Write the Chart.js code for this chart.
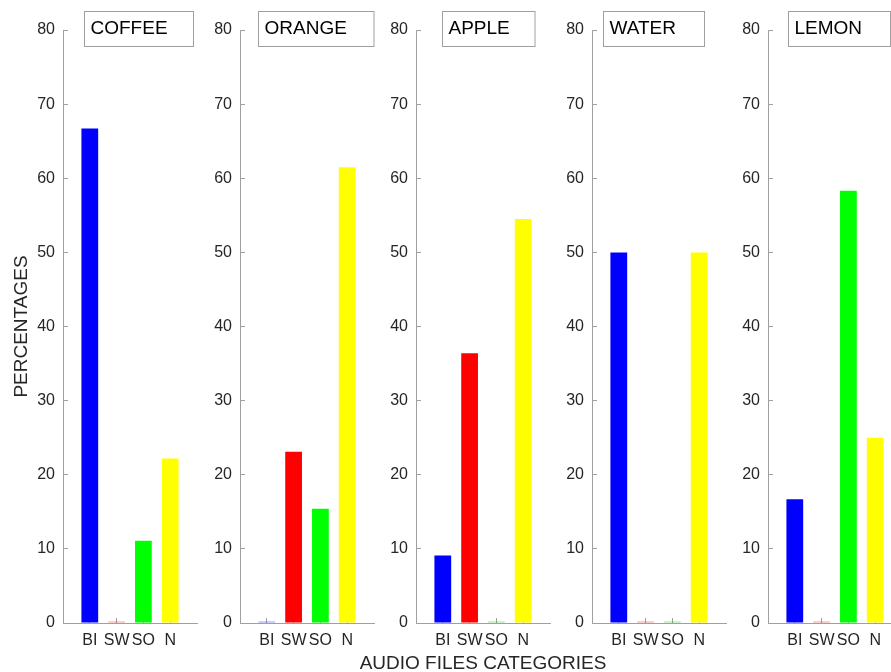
<!DOCTYPE html>
<html>
<head>
<meta charset="utf-8">
<script src="https://cdn.jsdelivr.net/npm/chart.js@4.4.1/dist/chart.umd.min.js"></script>
<style>
html,body{margin:0;padding:0;overflow:hidden;background:#ffffff;}
#wrap{position:relative;width:891px;height:672px;overflow:hidden;background:#ffffff;}
#wrap canvas{position:absolute;top:0;}
</style>
</head>
<body>
<div id="wrap"></div>
<script>
// ---- data ----
const categories = ['BI', 'SW', 'SO', 'N'];
const drinks = ['COFFEE', 'ORANGE', 'APPLE', 'WATER', 'LEMON'];
const coffee = [66.7, 0, 11.1, 22.2];
const orange = [0, 23.1, 15.4, 61.5];
const apple = [9.1, 36.4, 0, 54.5];
const water = [50, 0, 0, 50];
const lemon = [16.7, 0, 58.3, 25];
const yTicks = [0, 10, 20, 30, 40, 50, 60, 70, 80];
const yAxisTitle = 'PERCENTAGES';
const xAxisTitle = 'AUDIO FILES CATEGORIES';

// ---- style / layout ----
const series = [coffee, orange, apple, water, lemon];
const barColors = ['#0000ff', '#ff0000', '#00ff00', '#ffff00'];
const zeroColors = ['rgba(0,0,255,0.4)', 'rgba(255,0,0,0.4)', 'rgba(0,200,0,0.4)', 'rgba(220,220,0,0.5)'];
const axisLeft = [63, 240, 416, 592, 768];
const plotWidth = 134;
const titleBoxes = [
  {dx: 21, w: 109}, {dx: 17.5, w: 115.5}, {dx: 26, w: 92.5}, {dx: 11, w: 101}, {dx: 19.5, w: 102}
];
const FONT = '"Liberation Sans", Arial, Helvetica, sans-serif';
const AXIS_GRAY = '#a0a0a0';
const TEXT = '#262626';

Chart.defaults.font.family = FONT;
Chart.defaults.animation = false;

const boxTitle = {
  id: 'boxTitle',
  afterDraw(chart, args, opts) {
    const {ctx, chartArea} = chart;
    const x = Math.round(chartArea.left + opts.dx) + 0.5;
    const y = chartArea.top - 19 + 0.5;
    const h = 35;
    ctx.save();
    ctx.fillStyle = '#ffffff';
    ctx.fillRect(x, y, opts.w, h);
    ctx.strokeStyle = AXIS_GRAY;
    ctx.lineWidth = 1;
    ctx.strokeRect(x, y, opts.w, h);
    ctx.fillStyle = '#000000';
    ctx.font = '19px ' + FONT;
    ctx.textBaseline = 'alphabetic';
    ctx.textAlign = 'left';
    ctx.fillText(opts.text, x + 6, chartArea.top + 4.3);
    if (opts.xTitle) {
      ctx.fillStyle = TEXT;
      ctx.textAlign = 'center';
      ctx.fillText(opts.xTitle, (chartArea.left + chartArea.right) / 2, chartArea.bottom + 46);
    }
    ctx.restore();
  }
};

const wrap = document.getElementById('wrap');
series.forEach((values, i) => {
  const W = i === 0 ? 63 : 40;
  const padL = i === 2 ? 70 : 0;
  const padR = i === 2 ? 70 : 16;
  const canvas = document.createElement('canvas');
  canvas.width = padL + W + plotWidth + padR;
  canvas.height = 672;
  canvas.style.left = (axisLeft[i] - W - padL) + 'px';
  canvas.style.width = canvas.width + 'px';
  canvas.style.height = '672px';
  wrap.appendChild(canvas);

  new Chart(canvas, {
    type: 'bar',
    data: {
      datasets: [{
        data: values.map((v, k) => ({x: k + 1, y: v})),
        backgroundColor: c => (c.raw && c.raw.y === 0) ? zeroColors[c.dataIndex] : barColors[c.dataIndex],
        borderWidth: 0,
        minBarLength: 1.5,
        barPercentage: 0.625,
        categoryPercentage: 1
      }]
    },
    options: {
      responsive: false,
      devicePixelRatio: 1,
      animation: false,
      layout: {padding: {top: 30, left: padL, right: padR, bottom: 0}},
      plugins: {
        legend: {display: false},
        tooltip: {enabled: false},
        title: {display: false},
        boxTitle: {text: drinks[i], dx: titleBoxes[i].dx, w: titleBoxes[i].w, xTitle: i === 2 ? xAxisTitle : ''}
      },
      scales: {
        x: {
          type: 'linear',
          min: 0,
          max: 5,
          offset: false,
          afterBuildTicks: s => { s.ticks = [0, 1, 2, 3, 4, 5].map(v => ({value: v})); },
          ticks: {
            autoSkip: false,
            maxRotation: 0,
            minRotation: 0,
            padding: 13,
            color: TEXT,
            font: {size: 16},
            callback: v => categories[v - 1] !== undefined ? categories[v - 1] : ''
          },
          grid: {
            drawOnChartArea: false,
            offset: false,
            tickLength: -5,
            color: c => (c.tick && c.tick.value >= 1 && c.tick.value <= 4) ? AXIS_GRAY : 'rgba(0,0,0,0)'
          },
          border: {display: true, color: AXIS_GRAY, width: 1},
          afterFit: s => { s.height = 49; }
        },
        y: {
          min: 0,
          max: 80,
          afterBuildTicks: s => { s.ticks = yTicks.map(v => ({value: v})); },
          ticks: {padding: 13, color: TEXT, font: {size: 16}},
          grid: {drawOnChartArea: false, tickLength: -5, color: AXIS_GRAY},
          border: {display: true, color: AXIS_GRAY, width: 1},
          afterFit: s => { s.width = W; },
          title: {
            display: i === 0,
            text: yAxisTitle,
            color: TEXT,
            font: {size: 19, lineHeight: 1},
            padding: {top: 12.5, bottom: 0}
          }
        }
      }
    },
    plugins: [boxTitle]
  });
});
</script>
</body>
</html>
